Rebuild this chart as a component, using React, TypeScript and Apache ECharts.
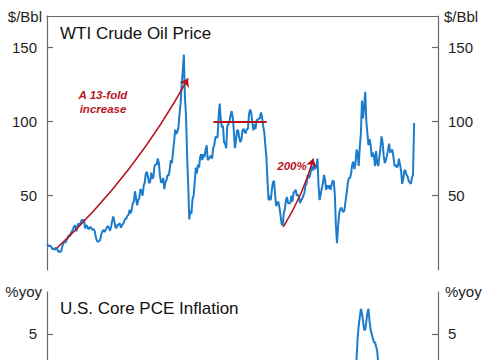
import React, { useEffect, useRef } from 'react';
import * as echarts from 'echarts';

// ---- Data ----
const wtiStart = 1998; // first month: Jan 1998
// WTI crude oil price, $/Bbl, monthly (Jan..Dec per row)
const wtiMonthly: number[] = [
  17.5, 16.5, 16, 16.5, 15.5, 14, 14.5, 13.5, 15, 14.5, 13, 12, // 1998
  12.5, 12.5, 15.5, 18, 18.5, 18.5, 20, 21.5, 23.5, 22.5, 25, 26, // 1999
  27.5, 29.5, 30, 26, 29, 31.5, 30, 31.5, 34, 33, 34, 28, // 2000
  30, 29.5, 27.5, 28, 29, 28, 27, 27.5, 26, 22, 19.5, 19, // 2001
  19.5, 20.5, 24, 26, 27, 25.5, 27, 28.5, 29.5, 28.5, 26.5, 29, // 2002
  33, 36, 33, 28.5, 28.5, 30.5, 30.5, 31.5, 28.5, 30, 31, 32.5, // 2003
  34.5, 34.5, 36.5, 37, 40.5, 38, 40.5, 45, 46, 53, 48.5, 43.5, // 2004
  47, 48.5, 54.5, 53, 50, 56.5, 59, 65, 66, 62.5, 58.5, 59.5, // 2005
  65.5, 61.5, 62.5, 70, 71, 71, 75, 72, 63.5, 59, 59, 62, // 2006
  54.5, 59, 60.5, 64, 63.5, 67.5, 74, 72, 79.5, 86, 94.5, 91.5, // 2007
  93, 95.5, 105, 112, 125, 134, 145, 116, 104, 77, 57, 34, // 2008
  40, 38, 48, 50, 59, 69, 65, 71, 69, 76, 78, 74, // 2009
  78, 76, 81, 84, 74, 75, 76, 77, 75, 82, 84, 89, // 2010
  90, 89, 103, 112, 101, 96, 97, 86, 85, 82, 97, 98, // 2011
  100, 104, 107, 103, 94, 82, 87, 94, 94, 89, 86, 88, // 2012
  94, 95, 93, 92, 95, 95, 105, 108, 106, 100, 94, 98, // 2013
  95, 101, 101, 102, 102, 106, 103, 97, 93, 84, 76, 60, // 2014
  47, 50, 47, 54, 59, 60, 51, 43, 45, 46, 42, 37, // 2015
  31, 30, 38, 41, 47, 49, 45, 45, 45, 50, 46, 52, // 2016
  53, 54, 50, 51, 49, 45, 47, 48, 50, 52, 57, 58, // 2017
  64, 62, 63, 67, 70, 67, 71, 68, 70, 75, 57, 47, // 2018
  51, 55, 58, 64, 61, 54, 57, 55, 57, 54, 57, 60, // 2019
  60, 51, 30, 18, 29, 38, 41, 42, 40, 39, 41, 47, // 2020
  52, 59, 62, 62, 65, 71, 73, 68, 71, 81, 79, 70, // 2021
  83, 92, 114, 102, 110, 120, 100, 92, 84, 88, 84, 76, // 2022
  79, 77, 70, 80, 72, 70, 76, 82, 90, 86, 77, 72, // 2023
  74, 77, 81, 85, 79, 80, 81, 76, 70, 71, 69, 70, // 2024
  75, 71, 67, 58, 61, 67, 67, 64, 63, 60, 59, 58, // 2025
  62, 64, 99, // 2026
];

const pceStart = 2021; // first month: Jan 2021
// U.S. core PCE inflation, %yoy, monthly
const pceMonthly: number[] = [
  1.6, 1.7, 2.1, 3.2, 3.6, 3.8, 3.8, 3.8, 3.9, 4.4, 4.9, 5.2, // 2021
  5.4, 5.6, 5.5, 5.3, 5.1, 5.1, 5.3, 5.5, 5.6, 5.3, 5.1, 5.0, // 2022
  4.9, 4.8, 4.8, 4.7, 4.6, 4.3, 4.2, 3.8, 3.6, 3.4, 3.2, 2.9, // 2023
  2.9, 2.8, 2.8, 2.8, 2.6, 2.6, 2.6, 2.7, 2.7, 2.8, 2.8, 2.9, // 2024
  2.7, 2.9, 2.6, 2.6, 2.7, 2.8, 2.9, 2.9, 2.8, 2.8, 2.8, 2.8, // 2025
  2.9, 2.9, // 2026
];

// Annotations (data coordinates: [year, value])
const foldArrow: number[][] = [[1998.77, 14.8], [2008.82, 129]];
const pctArrow: number[][] = [[2016.13, 29], [2018.44, 75]];
const plateauLine: number[][] = [[2010.76, 100], [2014.86, 100]];

const oilTicks = [50, 100, 150];
const pceTicks = [5];
const xRange = [1998, 2028];
const oilRange = [0, 171];
const pceRange = [4.38, 6]; // visible part of the lower panel

// ---- Styles ----
const FONT = '"Liberation Sans", Arial, Helvetica, sans-serif';
const BLUE = '#1C7CCB';
const RED = '#B8141E';
const AXIS = '#6a6a6a';
const TXT = '#1e1e1e';

const toPairs = (start: number, vals: number[]) =>
  vals.map((v, i) => [start + i / 12, v]);

function yAxisDef(grid: number, pos: 'left' | 'right', range: number[], ticks: number[]) {
  return {
    gridIndex: grid,
    type: 'value',
    position: pos,
    min: range[0],
    max: range[1],
    splitLine: { show: false },
    axisLine: { show: true, onZero: false, lineStyle: { color: AXIS, width: 1.2 } },
    axisTick: { show: true, inside: true, length: 6, customValues: ticks, lineStyle: { color: AXIS, width: 1.2 } },
    axisLabel: {
      show: true,
      customValues: ticks,
      margin: 10,
      color: TXT,
      fontSize: 15,
      fontFamily: FONT,
      formatter: (v: number) => (ticks.indexOf(v) >= 0 ? String(v) : ''),
    },
  };
}

function txt(text: string, x: number, y: number, align: string, font: string, fill: string) {
  return {
    type: 'text',
    x,
    y,
    silent: true,
    style: { text, align, verticalAlign: 'middle', font, fill },
  };
}

export default function App() {
  const ref = useRef<HTMLDivElement>(null);
  useEffect(() => {
    document.body.style.margin = '0';
    const chart = echarts.init(ref.current!, null, { renderer: 'svg' });
    const labelFont = `15px ${FONT}`;
    const titleFont = `17px ${FONT}`;
    const annoFont = `italic bold 11.5px ${FONT}`;
    chart.setOption({
      animation: false,
      textStyle: { fontFamily: FONT },
      grid: [
        { left: 47, width: 391, top: 16, height: 254 },
        { left: 47, width: 391, top: 292, bottom: 0 },
      ],
      xAxis: [
        {
          gridIndex: 0,
          type: 'value',
          min: xRange[0],
          max: xRange[1],
          position: 'top',
          axisLine: { show: true, onZero: false, lineStyle: { color: AXIS, width: 1.2 } },
          axisTick: { show: false },
          axisLabel: { show: false },
          splitLine: { show: false },
        },
        { gridIndex: 1, type: 'value', min: xRange[0], max: xRange[1], show: false, splitLine: { show: false } },
      ],
      yAxis: [
        yAxisDef(0, 'left', oilRange, oilTicks),
        yAxisDef(0, 'right', oilRange, oilTicks),
        yAxisDef(1, 'left', pceRange, pceTicks),
        yAxisDef(1, 'right', pceRange, pceTicks),
      ],
      series: [
        {
          type: 'line',
          name: 'WTI',
          xAxisIndex: 0,
          yAxisIndex: 0,
          data: toPairs(wtiStart, wtiMonthly),
          showSymbol: false,
          symbol: 'none',
          lineStyle: { color: BLUE, width: 2 },
          z: 2,
        },
        {
          type: 'lines',
          coordinateSystem: 'cartesian2d',
          xAxisIndex: 0,
          yAxisIndex: 0,
          symbol: ['none', 'arrow'],
          symbolSize: 8,
          lineStyle: { color: RED, width: 1.6, opacity: 1 },
          data: [
            { coords: foldArrow, lineStyle: { curveness: -0.08 } },
            { coords: pctArrow, lineStyle: { curveness: -0.07 } },
          ],
          z: 4,
        },
        {
          type: 'lines',
          coordinateSystem: 'cartesian2d',
          xAxisIndex: 0,
          yAxisIndex: 0,
          symbol: ['none', 'none'],
          lineStyle: { color: RED, width: 2, opacity: 1 },
          data: [{ coords: plateauLine }],
          z: 4,
        },
        {
          type: 'line',
          name: 'Core PCE',
          xAxisIndex: 1,
          yAxisIndex: 2,
          data: toPairs(pceStart, pceMonthly),
          showSymbol: false,
          symbol: 'none',
          clip: true,
          lineStyle: { color: BLUE, width: 2 },
          z: 2,
        },
      ],
      graphic: [
        txt('WTI Crude Oil Price', 60, 33, 'left', titleFont, '#111'),
        txt('$/Bbl', 42, 16.5, 'right', labelFont, TXT),
        txt('$/Bbl', 444, 16.5, 'left', labelFont, TXT),
        txt('U.S. Core PCE Inflation', 60, 308, 'left', titleFont, '#111'),
        txt('%yoy', 42, 291.5, 'right', labelFont, TXT),
        txt('%yoy', 445, 291.5, 'left', labelFont, TXT),
        txt('A 13-fold', 103, 94.5, 'center', annoFont, RED),
        txt('increase', 103, 108.5, 'center', annoFont, RED),
        txt('200%', 292, 165.5, 'center', annoFont, RED),
      ],
    });
    return () => chart.dispose();
  }, []);
  return (
    <div
      ref={ref}
      style={{ position: 'absolute', left: 0, top: 0, width: 485, height: 360 }}
    />
  );
}
